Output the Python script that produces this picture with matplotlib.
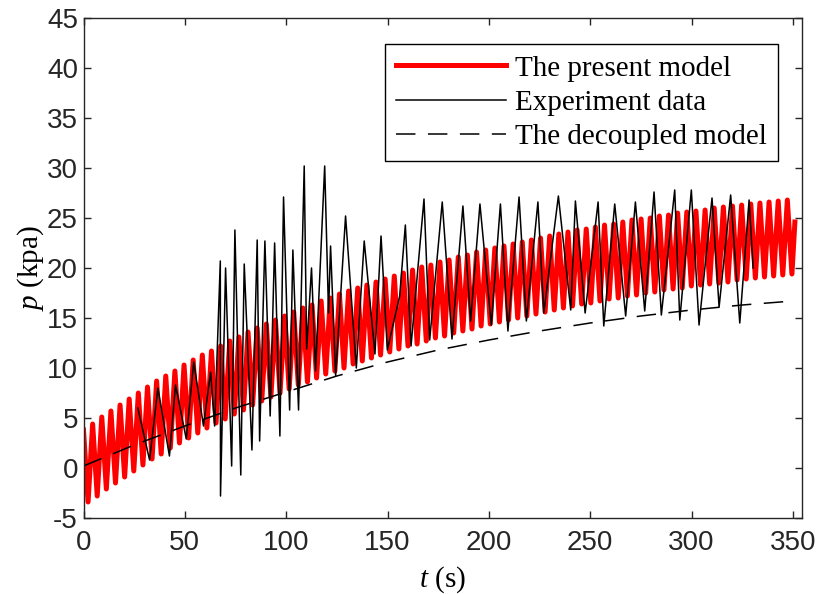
import numpy as np
import matplotlib.pyplot as plt

plt.rcParams['mathtext.fontset'] = 'custom'
plt.rcParams['mathtext.rm'] = 'Liberation Serif'
plt.rcParams['mathtext.it'] = 'Liberation Serif:italic'
plt.rcParams['lines.scale_dashes'] = False
plt.rcParams['axes.unicode_minus'] = False

# present model: peak / trough values of each oscillation cycle (period ~4.51 s)
red_period = 4.51
red_peaks = [3.8, 4.4, 5.1, 5.7, 6.3, 6.9, 7.5, 8.1, 8.7, 9.2,
             9.7, 10.3, 10.8, 11.3, 11.7, 12.2, 12.7, 13.1, 13.6, 14.0,
             14.4, 14.8, 15.2, 15.6, 16.0, 16.3, 16.7, 17.0, 17.4, 17.7,
             18.0, 18.3, 18.6, 18.9, 19.2, 19.5, 19.8, 20.1, 20.3, 20.6,
             20.8, 21.1, 21.3, 21.6, 21.8, 22.0, 22.2, 22.4, 22.6, 22.8,
             23.0, 23.2, 23.4, 23.6, 23.8, 23.9, 24.1, 24.3, 24.4, 24.6,
             24.8, 24.9, 25.0, 25.2, 25.3, 25.5, 25.6, 25.7, 25.8, 26.0,
             26.1, 26.2, 26.3, 26.4, 26.5, 26.6, 26.7, 26.8]
red_troughs = [-3.4, -2.8, -2.1, -1.5, -0.9, -0.3, 0.3, 0.9, 1.4, 2.0,
               2.5, 3.0, 3.5, 4.0, 4.5, 4.9, 5.4, 5.8, 6.3, 6.7,
               7.1, 7.5, 7.9, 8.3, 8.6, 9.0, 9.4, 9.7, 10.0, 10.4,
               10.7, 11.0, 11.3, 11.6, 11.9, 12.2, 12.4, 12.7, 13.0, 13.2,
               13.5, 13.7, 13.9, 14.2, 14.4, 14.6, 14.8, 15.0, 15.2, 15.4,
               15.6, 15.8, 16.0, 16.2, 16.4, 16.5, 16.7, 16.9, 17.0, 17.2,
               17.3, 17.5, 17.6, 17.8, 17.9, 18.0, 18.2, 18.3, 18.4, 18.5,
               18.6, 18.8, 18.9, 19.0, 19.1, 19.2, 19.3, 19.4]
red_end_t, red_end_p = 351.0, 24.6

# experiment data
exp_t = [26.8, 32.6, 36.7, 42.4, 45.4, 50.7, 54.4, 59.2, 62.7, 64.7,
         67.5, 67.6, 70.1, 73.1, 74.7, 77.6, 79.3, 83.1, 85.7, 86.9,
         89.5, 92.1, 94.3, 96.9, 98.7, 101.7, 103.3, 106.1, 108.9, 110.1,
         112.5, 114.5, 119.0, 120.9, 121.9, 124.4, 129.3, 134.6, 138.5, 143.8,
         146.8, 149.9, 156.0, 158.8, 161.6, 168.0, 170.8, 177.0, 181.8, 187.2,
         191.0, 195.6, 201.2, 205.7, 209.4, 214.9, 218.5, 224.2, 227.1, 234.3,
         240.4, 242.7, 247.5, 253.9, 256.7, 262.1, 267.5, 272.3, 276.9, 281.5,
         285.1, 291.7, 294.2, 299.9, 303.7, 310.1, 313.6, 319.3, 323.8, 328.4,
         330.4]
exp_p = [6.0, 0.8, 8.0, 1.2, 8.3, 2.9, 10.6, 4.2, 9.6, 4.2,
         20.7, -2.8, 20.0, 0.2, 23.8, -0.7, 20.4, 1.8, 22.8, 2.7,
         22.7, 5.2, 22.5, 3.2, 27.1, 5.8, 21.8, 5.8, 30.2, 11.9,
         20.0, 9.7, 30.2, 15.5, 22.2, 9.2, 25.2, 10.0, 22.7, 11.4,
         23.2, 11.8, 17.2, 24.3, 12.2, 26.9, 12.8, 26.6, 12.9, 26.2,
         14.7, 26.4, 14.3, 26.4, 13.7, 27.1, 14.7, 26.6, 15.5, 27.2,
         15.8, 26.7, 15.5, 26.6, 14.2, 26.4, 15.2, 26.6, 15.7, 27.6,
         15.3, 27.8, 14.8, 27.8, 14.3, 27.0, 16.1, 27.3, 14.5, 26.8,
         20.0]

# decoupled model
dec_t = [0, 25, 50, 75, 100, 125, 150, 175, 200, 225, 250, 275, 300, 325, 350]
dec_p = [0.2, 2.3, 4.2, 6.0, 7.6, 9.2, 10.6, 11.8, 12.8, 13.7, 14.5, 15.2, 15.8, 16.3, 16.7]

# interleave peaks and troughs into one line
n = len(red_peaks)
red_t = np.empty(2 * n)
red_p = np.empty(2 * n)
red_t[0::2] = np.arange(n) * red_period
red_t[1::2] = (np.arange(n) + 0.5) * red_period
red_p[0::2] = red_peaks
red_p[1::2] = red_troughs
red_t = np.append(red_t, red_end_t)
red_p = np.append(red_p, red_end_p)

fig = plt.figure(figsize=(8.17, 5.94), dpi=100)
ax = fig.add_axes([83.5 / 817, 1 - 518 / 594, (802 - 83.5) / 817, 500 / 594])

ax.plot(red_t, red_p, color='red', lw=3.6, solid_joinstyle='round', label='The present model')
ax.plot(exp_t, exp_p, color='black', lw=1.1, label='Experiment data')
ax.plot(dec_t, dec_p, color='black', lw=1.1, dashes=(14, 9), label='The decoupled model')

ax.set_xlim(0, 354.5)
ax.set_ylim(-5, 45)
ax.set_xticks(np.arange(0, 351, 50))
ax.set_yticks(np.arange(-5, 46, 5))

gray = '#262626'
for s in ax.spines.values():
    s.set_color(gray)
    s.set_linewidth(1.0)
ax.tick_params(direction='in', top=True, right=True, length=5, width=1.0,
               colors=gray, labelsize=20)
ax.tick_params(axis='x', pad=9)
ax.tick_params(axis='y', pad=4)
for lab in ax.get_xticklabels() + ax.get_yticklabels():
    lab.set_fontfamily('Liberation Sans')

ax.set_xlabel('$t$ (s)', fontsize=21, fontfamily='Liberation Serif', labelpad=6)
ax.set_ylabel('$p$ (kpa)', fontsize=21, fontfamily='Liberation Serif', labelpad=1)

leg = ax.legend(loc='upper right', bbox_to_anchor=(0.9666, 0.948),
                prop={'family': 'Liberation Serif', 'size': 21},
                fancybox=False, framealpha=1, edgecolor='black',
                handlelength=3.77, handletextpad=0.3, labelspacing=0.27,
                borderpad=0.38, borderaxespad=0)
leg.get_frame().set_linewidth(1.0)

fig.savefig('out.png', dpi=100)
